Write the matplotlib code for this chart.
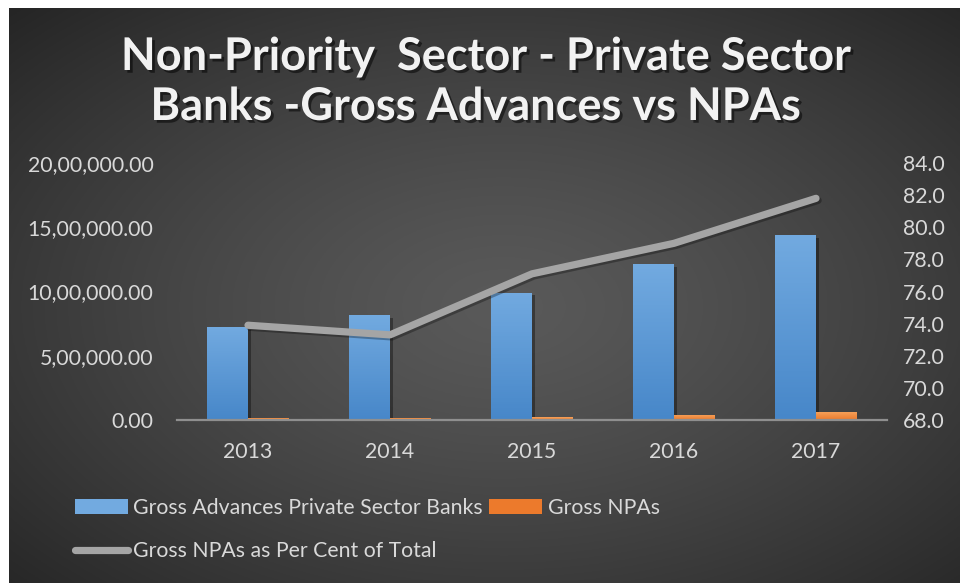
import matplotlib

matplotlib.use("Agg")
import matplotlib.pyplot as plt
import matplotlib.patheffects as pe
from matplotlib.lines import Line2D
from matplotlib.patches import Patch
from matplotlib.ticker import FuncFormatter, MultipleLocator
import numpy as np

plt.rcParams["font.family"] = ["Lato", "DejaVu Sans"]

years = ["2013", "2014", "2015", "2016", "2017"]
gross_advances = [724000, 817000, 991000, 1214000, 1440000]
gross_npas = [18000, 18000, 23000, 39000, 65000]
npa_share = [73.9, 73.3, 77.1, 79.0, 81.8]

TEXT = "#d9d9d9"
BLUE_TOP, BLUE_BOT = "#72aae0", "#4787c9"
ORANGE_TOP, ORANGE_BOT = "#f6a45e", "#ec7a2c"
LINE = "#a5a5a5"


def indian_fmt(v, _pos=None):
    s = f"{int(round(v))}"
    if len(s) > 3:
        head, tail = s[:-3], s[-3:]
        groups = []
        while len(head) > 2:
            groups.insert(0, head[-2:])
            head = head[:-2]
        if head:
            groups.insert(0, head)
        s = ",".join(groups + [tail])
    return s + ".00"


def gradient_bars(ax, bars, top, bottom):
    c0 = np.array(matplotlib.colors.to_rgb(top))
    c1 = np.array(matplotlib.colors.to_rgb(bottom))
    t = np.linspace(0, 1, 64)[:, None]
    img = (c0 * (1 - t) + c1 * t)[:, None, :]
    for b in bars:
        x, y = b.get_x(), b.get_y()
        w, h = b.get_width(), b.get_height()
        im = ax.imshow(img, extent=(x, x + w, y, y + h), aspect="auto",
                       origin="upper", zorder=b.get_zorder() + 0.1)
        im.set_clip_path(b)


fig = plt.figure(figsize=(9.6, 5.83), dpi=100, facecolor="white")

# radial dark background panel
bg = fig.add_axes([9 / 960, 0, 951 / 960, 575 / 583], zorder=-10)
gx, gy = np.meshgrid(np.linspace(0, 1, 480), np.linspace(0, 1, 300))
r = np.sqrt(((gx - 0.52) / 0.75) ** 2 + ((gy - 0.52) / 0.75) ** 2)
r = np.clip(r, 0, 1)
inner, outer = np.array([0.35, 0.35, 0.35]), np.array([0.14, 0.14, 0.14])
shade = inner + (outer - inner) * (r[..., None] ** 1.3)
bg.imshow(shade, extent=(0, 1, 0, 1), aspect="auto")
bg.set_axis_off()

ax = fig.add_axes([177 / 960, 1 - 420 / 583, 710 / 960, 257 / 583])
ax.patch.set_visible(False)
x = np.arange(len(years))
w = 41 / 142
shadow = [pe.SimplePatchShadow(offset=(2, -2), alpha=0.35, shadow_rgbFace="black"), pe.Normal()]
b1 = ax.bar(x - w / 2, gross_advances, w, color=BLUE_BOT, zorder=2, path_effects=shadow)
b2 = ax.bar(x + w / 2, gross_npas, w, color=ORANGE_BOT, zorder=2)
gradient_bars(ax, b1, BLUE_TOP, BLUE_BOT)
gradient_bars(ax, b2, ORANGE_TOP, ORANGE_BOT)

ax.set_xlim(-0.5, len(years) - 0.5)
ax.set_ylim(0, 2000000)
ax.yaxis.set_major_locator(MultipleLocator(500000))
ax.yaxis.set_major_formatter(FuncFormatter(indian_fmt))
ax.set_xticks(x)
ax.set_xticklabels(years)
for side in ("top", "left", "right"):
    ax.spines[side].set_visible(False)
ax.spines["bottom"].set_color("#8f8f8f")
ax.spines["bottom"].set_linewidth(1.6)
ax.spines["bottom"].set_zorder(3)
ax.tick_params(axis="both", length=0, colors=TEXT, labelsize=15.3)
ax.tick_params(axis="y", pad=17)
ax.tick_params(axis="x", pad=16)

ax2 = ax.twinx()
ax2.plot(x, npa_share, color=LINE, lw=5.2, solid_capstyle="round", solid_joinstyle="round",
         path_effects=[pe.SimpleLineShadow(offset=(1.5, -1.5), alpha=0.3), pe.Normal()])
ax2.set_ylim(68, 84)
ax2.yaxis.set_major_locator(MultipleLocator(2))
ax2.yaxis.set_major_formatter(FuncFormatter(lambda v, _p: f"{v:.1f}"))
for side in ("top", "left", "right", "bottom"):
    ax2.spines[side].set_visible(False)
ax2.tick_params(axis="y", length=0, colors=TEXT, labelsize=15.3, pad=11.5)

title_fx = [pe.withSimplePatchShadow(offset=(2, -2), alpha=0.5, shadow_rgbFace="black")]
fig.text(486 / 960, 1 - 57 / 583, "Non-Priority  Sector - Private Sector", ha="center",
         va="center", color="#f2f2f2", fontsize=32.5, fontweight="bold", path_effects=title_fx)
fig.text(476 / 960, 1 - 107 / 583, "Banks -Gross Advances vs NPAs", ha="center",
         va="center", color="#f2f2f2", fontsize=32.5, fontweight="bold", path_effects=title_fx)

handles = [
    Patch(facecolor=BLUE_TOP, edgecolor="none"),
    Line2D([], [], color=LINE, lw=5.2, solid_capstyle="round"),
    Patch(facecolor=ORANGE_BOT, edgecolor="none"),
]
labels = ["Gross Advances Private Sector Banks", "Gross NPAs as Per Cent of Total", "Gross NPAs"]
leg = fig.legend(handles, labels, ncol=2, loc="upper left", bbox_to_anchor=(64 / 960, 1 - 487 / 583),
                 frameon=False, fontsize=15.3, handlelength=2.5, handleheight=0.72,
                 handletextpad=0.25, columnspacing=0.3, labelspacing=1.12, borderpad=0)
for t in leg.get_texts():
    t.set_color(TEXT)

fig.savefig("out.png", dpi=100, facecolor="white")
